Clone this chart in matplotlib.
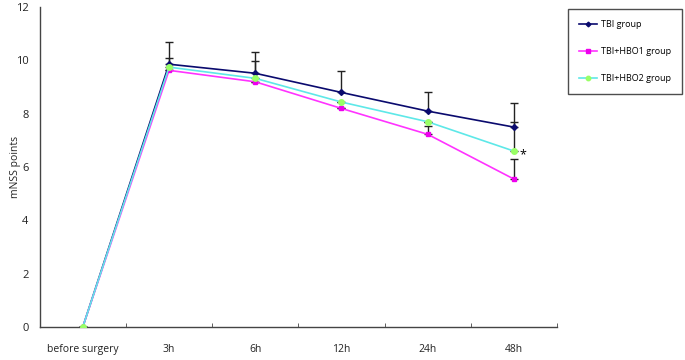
import numpy as np
import matplotlib.pyplot as plt

times = ['before surgery', '3h', '6h', '12h', '24h', '48h']
tbi = [0, 9.86, 9.52, 8.8, 8.1, 7.5]
hbo1 = [0, 9.63, 9.2, 8.2, 7.23, 5.55]
hbo2 = [0, 9.75, 9.33, 8.44, 7.7, 6.6]
tbi_err = [0, 0.85, 0.8, 0.8, 0.7, 0.9]
hbo1_err = [0, 0, 0, 0, 0.3, 0.75]
hbo2_err = [0, 0.35, 0.65, 0, 0, 1.1]

plt.rcParams['font.family'] = ['Open Sans', 'DejaVu Sans']

fig = plt.figure(figsize=(6.85, 3.6), dpi=100)
ax = fig.add_axes([0.058, 0.092, 0.755, 0.888])
x = np.arange(len(times))

series = [
    (tbi, tbi_err, 'TBI group', '#0a0a6e', 'D', '#0a0a6e', 3),
    (hbo1, hbo1_err, 'TBI+HBO1 group', '#ff33ff', 's', '#ee00ee', 3.5),
    (hbo2, hbo2_err, 'TBI+HBO2 group', '#5ee8e8', 'o', '#99ff66', 4),
]
for vals, err, lab, col, mk, mcol, ms in series:
    e = np.array(err, dtype=float)
    ax.errorbar(x, vals, yerr=[np.zeros_like(e), e], fmt='none', ecolor='#222222',
                elinewidth=1, capsize=3, capthick=1, zorder=2)
for vals, err, lab, col, mk, mcol, ms in series:
    ax.plot(x, vals, color=col, lw=1.2, marker=mk, ms=ms, mfc=mcol, mec=mcol,
            label=lab, zorder=3)

ax.text(x[-1] + 0.07, hbo2[-1] - 0.15, '*', fontsize=9, color='black', ha='left', va='center')

ax.set_xlim(-0.5, 5.5)
ax.set_ylim(0, 12)
ax.set_yticks(range(0, 13, 2))
ax.set_xticks(x)
ax.set_xticklabels(times)
ax.set_xticks(np.arange(0.5, 5.6, 1), minor=True)
ax.tick_params(axis='x', which='major', length=0, pad=12, labelsize=7.5, colors='#222222')
ax.tick_params(axis='x', which='minor', length=3, direction='in', color='#444444')
ax.tick_params(axis='y', length=0, pad=8, labelsize=8, colors='#222222')
ax.set_ylabel('mNSS points', fontsize=7.5, color='#222222')
ax.yaxis.set_label_coords(-0.037, 0.5)
for s in ['top', 'right']:
    ax.spines[s].set_visible(False)
for s in ['left', 'bottom']:
    ax.spines[s].set_color('#444444')
    ax.spines[s].set_linewidth(1)

leg = fig.legend(loc='upper left', bbox_to_anchor=(0.823, 0.988), fontsize=6.5,
                 frameon=True, fancybox=False, edgecolor='#222222', labelspacing=2.0,
                 handlelength=2.0, handletextpad=0.4, borderpad=1.2, markerscale=0.8)
leg.get_frame().set_linewidth(1)

fig.savefig('out.png', dpi=100)
